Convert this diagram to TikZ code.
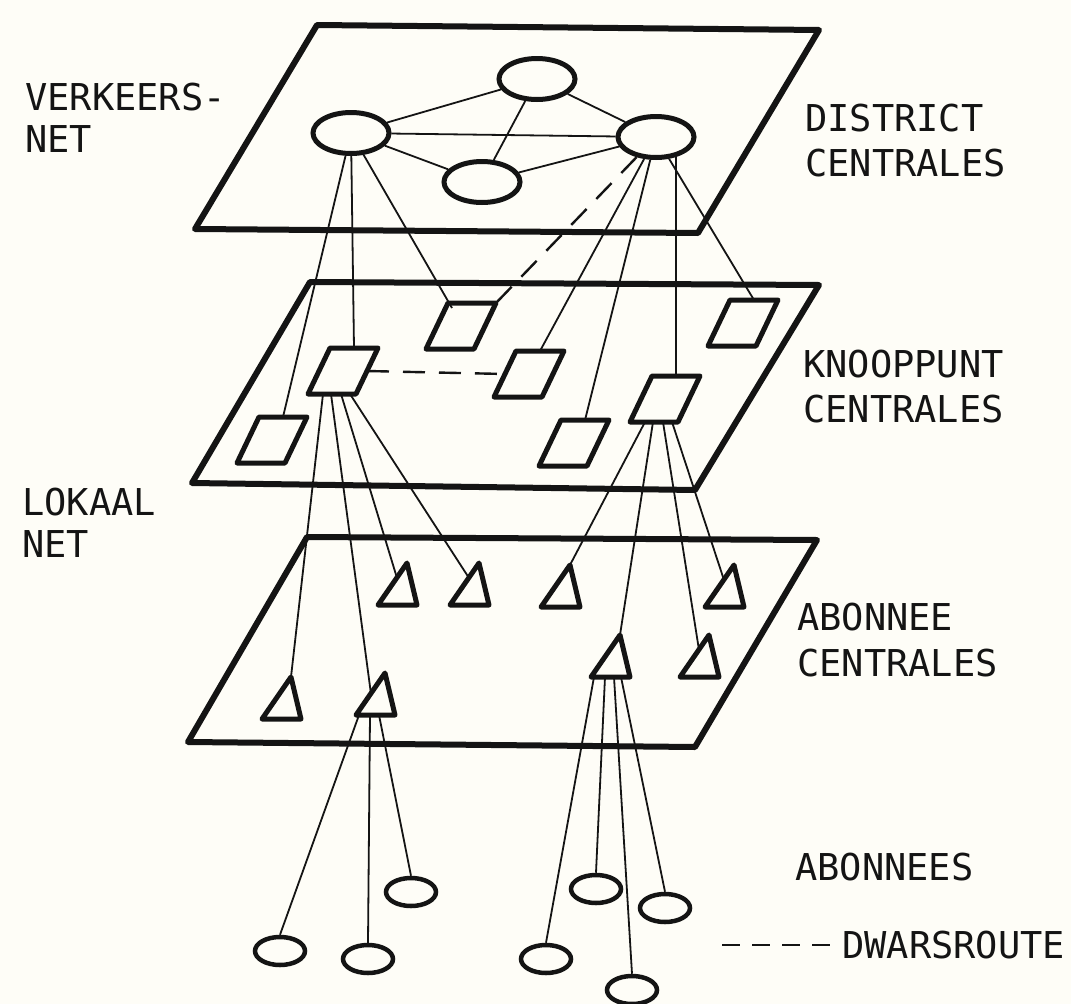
\documentclass[tikz,border=0pt]{standalone}
\usepackage{fontspec}
\newfontfamily\labfont{DejaVu Sans Mono}
\usetikzlibrary{shapes.geometric}
\definecolor{paper}{RGB}{254,253,247}
\definecolor{ink}{RGB}{20,20,20}
\begin{document}
\begin{tikzpicture}[x=1pt,y=-1pt,
  plane/.style={draw=ink,line width=6pt,line join=round},
  shapeline/.style={draw=ink,line width=5pt,line join=round},
  conn/.style={draw=ink,line width=1.8pt},
  dwars/.style={draw=ink,line width=2.4pt,dash pattern=on 22pt off 14pt},
  legdash/.style={draw=ink,line width=2.4pt,dash pattern=on 18pt off 12pt},
  dist/.style={ellipse,draw=ink,line width=5pt,minimum width=76pt,minimum height=41pt,inner sep=0pt},
  abon/.style={ellipse,draw=ink,line width=4.5pt,minimum width=50pt,minimum height=28pt,inner sep=0pt},
  lab/.style={anchor=base west,inner sep=0pt,text=ink,font=\labfont\fontsize{37}{37}\selectfont},
  knoop/.pic={
    \draw[shapeline] (-13,-23) -- (35,-23) -- (13,23) -- (-35,23) -- cycle;
    \coordinate (-t) at (11,-23);
    \coordinate (-tl) at (-9,-18);
    \coordinate (-tr) at (35,-23);
    \coordinate (-l) at (-24,0);
    \coordinate (-r) at (24,0);
    \coordinate (-b0) at (-20,23);
    \coordinate (-b1) at (-12,23);
    \coordinate (-b2) at (-2,23);
    \coordinate (-b3) at (7,23);
  },
  abtri/.pic={
    \draw[shapeline] (0,0) -- (10,42) -- (-29,42) -- cycle;
    \coordinate (-a) at (0,0);
    \coordinate (-s) at (-10,15);
    \coordinate (-m) at (-14,21);
    \coordinate (-b0) at (-26,42);
    \coordinate (-b1) at (-15,42);
    \coordinate (-b2) at (-6,42);
    \coordinate (-b3) at (1,42);
  }
]
\fill[paper] (0,0) rectangle (1071,1004);
\useasboundingbox (0,0) rectangle (1071,1004);

% planes
\draw[plane] (317,25) -- (819,30) -- (698,233) -- (195,229) -- cycle;
\draw[plane] (310,282) -- (819,285) -- (695,490) -- (192,483) -- cycle;
\draw[plane] (307,537) -- (817,540) -- (695,747) -- (188,742) -- cycle;

% district centrales
\node[dist] (dl) at (351,133) {};
\node[dist] (dt) at (537,79) {};
\node[dist] (dr) at (656,137) {};
\node[dist] (db) at (482,182) {};
\draw[conn] (dl) -- (dt);
\draw[conn] (dl) -- (dr);
\draw[conn] (dl) -- (db);
\draw[conn] (dt) -- (db);
\draw[conn] (dt) -- (dr);
\draw[conn] (db) -- (dr);

% knooppunt centrales
\pic (p1) at (461,326) {knoop};
\pic (p2) at (343,371) {knoop};
\pic (p3) at (529,374) {knoop};
\pic (p4) at (743,323) {knoop};
\pic (p5) at (665,399) {knoop};
\pic (p6) at (272,440) {knoop};
\pic (p7) at (574,443) {knoop};

% abonnee centrales
\pic (t1) at (407,563) {abtri};
\pic (t2) at (479,563) {abtri};
\pic (t3) at (570,565) {abtri};
\pic (t4) at (734,565) {abtri};
\pic (t5) at (620,635) {abtri};
\pic (t6) at (709,635) {abtri};
\pic (t7) at (291,677) {abtri};
\pic (t8) at (385,673) {abtri};

% abonnees
\node[abon] (e1) at (280,951) {};
\node[abon] (e2) at (368,959) {};
\node[abon] (e3) at (411,892) {};
\node[abon] (e4) at (546,959) {};
\node[abon] (e5) at (596,889) {};
\node[abon] (e6) at (665,908) {};
\node[abon] (e7) at (632,990) {};

% district -> knooppunt
\draw[conn] (dl) -- (p6-t);
\draw[conn] (dl) -- (p2-t);
\draw[conn] (dl) -- (p1-tl);
\draw[dwars] (dr) -- (p1-tr);
\draw[conn] (dr) -- (p3-t);
\draw[conn] (dr) -- (p7-t);
\draw[conn] (dr.-45) -- (p5-t);
\draw[conn] (dr) -- (p4-t);
\draw[dwars] (p2-r) -- (p3-l);

% knooppunt -> abonnee centrales
\draw[conn] (p2-b0) -- (t7-a);
\draw[conn] (p2-b1) -- (t8-m);
\draw[conn] (p2-b2) -- (t1-s);
\draw[conn] (p2-b3) -- (t2-s);
\draw[conn] (p5-b0) -- (t3-a);
\draw[conn] (p5-b1) -- (t5-a);
\draw[conn] (p5-b2) -- (t6-s);
\draw[conn] (p5-b3) -- (t4-s);

% abonnee centrales -> abonnees
\draw[conn] (t8-b0) -- (e1.north);
\draw[conn] (t8-b1) -- (e2.north);
\draw[conn] (t8-b2) -- (e3.north);
\draw[conn] (t5-b0) -- (e4.north);
\draw[conn] (t5-b1) -- (e5.north);
\draw[conn] (t5-b2) -- (e7.north);
\draw[conn] (t5-b3) -- (e6.north);

% labels
\node[lab] (l1a) at (25,110) {VERKEERS-};
\node[lab] (l1b) at (25,152) {NET};
\node[lab] (l2a) at (805,131) {DISTRICT};
\node[lab] (l2b) at (805,176) {CENTRALES};
\node[lab] (l3a) at (803,377) {KNOOPPUNT};
\node[lab] (l3b) at (803,422) {CENTRALES};
\node[lab] (l4a) at (22,515) {LOKAAL};
\node[lab] (l4b) at (22,557) {NET};
\node[lab] (l5a) at (797,630) {ABONNEE};
\node[lab] (l5b) at (797,676) {CENTRALES};
\node[lab] (l6) at (795,880) {ABONNEES};
\coordinate (lg1) at (722,945);
\coordinate (lg2) at (832,945);
\draw[legdash] (lg1) -- (lg2);
\node[lab] (l7) at (842,958) {DWARSROUTE};
\end{tikzpicture}
\end{document}
